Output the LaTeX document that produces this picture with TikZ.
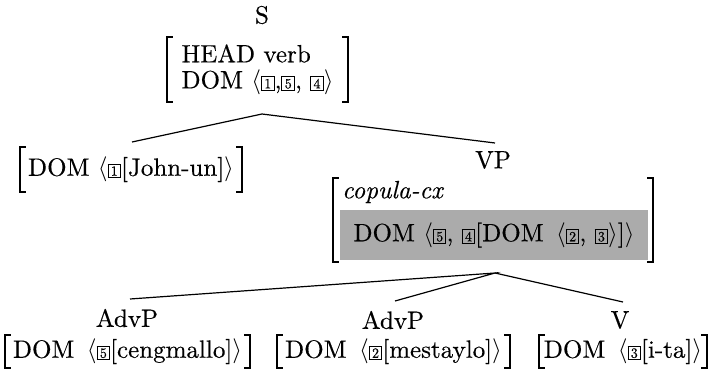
\documentclass[tikz,border=0pt]{standalone}
\usepackage{fix-cm}
\usepackage{fontspec}
\setmainfont{lmroman10-regular.otf}[FakeBold=0.35, ItalicFont=lmroman10-italic.otf]
\newcommand\tg[1]{{\setlength{\fboxsep}{0pt}\setlength{\fboxrule}{1pt}\fbox{\makebox[11.5pt][c]{\rule[-1.5pt]{0pt}{12.5pt}\fontsize{14}{14}\selectfont #1}}}}
\newcommand\avmbr[1]{%
  \draw[brk] ([xshift=6pt]#1.north west) -- (#1.north west) -- (#1.south west) -- ([xshift=6pt]#1.south west);
  \draw[brk] ([xshift=-6pt]#1.north east) -- (#1.north east) -- (#1.south east) -- ([xshift=-6pt]#1.south east);}
\begin{document}
\begin{tikzpicture}[x=1pt,y=1pt,
  font=\fontsize{25}{26}\selectfont,
  brk/.style={line width=1.5pt},
  edge/.style={line width=1.2pt},
  lbl/.style={inner sep=0pt},
  avm/.style={inner sep=0pt}]
\useasboundingbox (0,0) rectangle (709,373);

\node[lbl] (S) at (262,358) {S};
\node[avm, minimum width=181pt, minimum height=65pt, align=left] (savm) at (257.5,303.5)
  {HEAD verb\\DOM $\bigl\langle$\tg1,\tg5, \tg4$\bigr\rangle$};

\node[avm, minimum width=222pt, minimum height=45pt] (john) at (131,203.5)
  {DOM $\bigl\langle$\tg1[John-un]$\bigr\rangle$};

\node[lbl] (VP) at (493,213) {VP};
\node[avm, minimum width=320pt, minimum height=84pt] (vpavm) at (493,153) {};
\node[anchor=west, inner sep=0pt] (cop) at (342,181) {\itshape copula-cx};
\node[fill=black!33, minimum width=308pt, minimum height=50pt, inner sep=0pt] (gray) at (494,138)
  {DOM $\bigl\langle$\tg5, \tg4[DOM\,\ $\langle$\tg2, \tg3$\rangle$]$\bigr\rangle$};

\node[lbl] (adv1) at (127,55) {AdvP};
\node[avm, minimum width=245pt, minimum height=33pt] (a1) at (127.5,21.5)
  {DOM\,\ $\langle$\tg5[cengmallo]$\rangle$};
\node[lbl] (adv2) at (393,53) {AdvP};
\node[avm, minimum width=233pt, minimum height=33pt] (a2) at (393.5,21.5)
  {DOM\,\ $\langle$\tg2[mestaylo]$\rangle$};
\node[lbl] (v) at (620,53) {V};
\node[avm, minimum width=168pt, minimum height=33pt] (a3) at (623,21.5)
  {DOM\,\ $\langle$\tg3[i-ta]$\rangle$};

\avmbr{savm}
\avmbr{john}
\avmbr{vpavm}
\avmbr{a1}
\avmbr{a2}
\avmbr{a3}

\coordinate (sapex) at (262,259);
\coordinate (jtop) at (132,231);
\coordinate (vptop) at (495,230);
\coordinate (vpapex) at (495,100);
\coordinate (a1top) at (130,74);
\coordinate (a2top) at (395,72);
\coordinate (vtop) at (623,71);
\draw[edge] (jtop) -- (sapex) -- (vptop);
\draw[edge] (a1top) -- (vpapex) -- (a2top);
\draw[edge] (vpapex) -- (vtop);
\end{tikzpicture}
\end{document}
